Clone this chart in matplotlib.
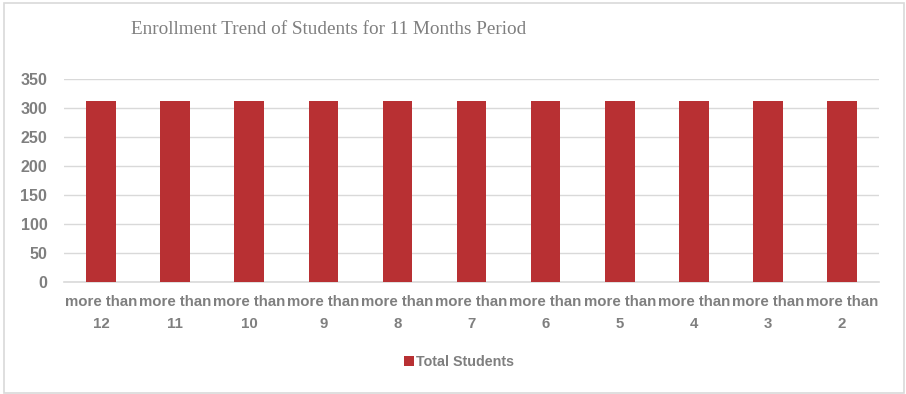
import matplotlib
matplotlib.use("Agg")
import matplotlib.pyplot as plt
from matplotlib.patches import Rectangle

categories = ["more than\n12", "more than\n11", "more than\n10", "more than\n9", "more than\n8",
              "more than\n7", "more than\n6", "more than\n5", "more than\n4", "more than\n3", "more than\n2"]
total_students = [312, 312, 312, 312, 312, 312, 312, 312, 312, 312, 312]
yticks = [0, 50, 100, 150, 200, 250, 300, 350]

W, H = 906, 394
fig = plt.figure(figsize=(W / 100, H / 100), dpi=100)
fig.patch.set_facecolor("white")
fig.add_artist(Rectangle((4 / W, 1 / H), (W - 6) / W, (H - 4) / H, transform=fig.transFigure,
                         fill=False, edgecolor="#D9D9D9", linewidth=1.2))

ax = fig.add_axes([64 / W, (H - 282) / H, (879 - 64) / W, (282 - 79) / H])
x = list(range(len(categories)))
bars = ax.bar(x, total_students, width=0.4, color="#B83033", label="Total Students", zorder=3)
ax.set_xlim(-0.5, len(categories) - 0.5)
ax.set_ylim(0, 350)
ax.set_yticks(yticks)
ax.set_xticks(x)
ax.set_xticklabels(categories)
for s in ["top", "right", "left"]:
    ax.spines[s].set_visible(False)
ax.spines["bottom"].set_color("#D9D9D9")
ax.spines["bottom"].set_linewidth(1.2)
ax.grid(axis="y", color="#D9D9D9", linewidth=1.0, zorder=0)
ax.tick_params(length=0, colors="#595959")
for lbl in ax.get_xticklabels():
    lbl.set_fontfamily("Liberation Sans")
    lbl.set_fontweight("bold")
    lbl.set_fontsize(10.8)
    lbl.set_color("#7F7F7F")
    lbl.set_linespacing(1.8)
for lbl in ax.get_yticklabels():
    lbl.set_fontfamily("Liberation Sans")
    lbl.set_fontweight("bold")
    lbl.set_fontsize(11.5)
    lbl.set_color("#7F7F7F")
ax.tick_params(axis="y", pad=12)
ax.tick_params(axis="x", pad=9)

fig.text(131 / W, 1 - 30 / H, "Enrollment Trend of Students for 11 Months Period",
         fontfamily="Liberation Serif", fontsize=13.8, color="#7F7F7F", ha="left", va="center")

leg = fig.legend(handles=[bars], labels=["Total Students"], loc="center",
                 bbox_to_anchor=(459 / W, 1 - 362 / H), frameon=False,
                 handlelength=0.7, handleheight=0.7, handletextpad=0.1,
                 prop={"family": "Liberation Sans", "weight": "bold", "size": 10.3})
for t in leg.get_texts():
    t.set_color("#7F7F7F")

fig.savefig("out.png", dpi=100, facecolor="white")
